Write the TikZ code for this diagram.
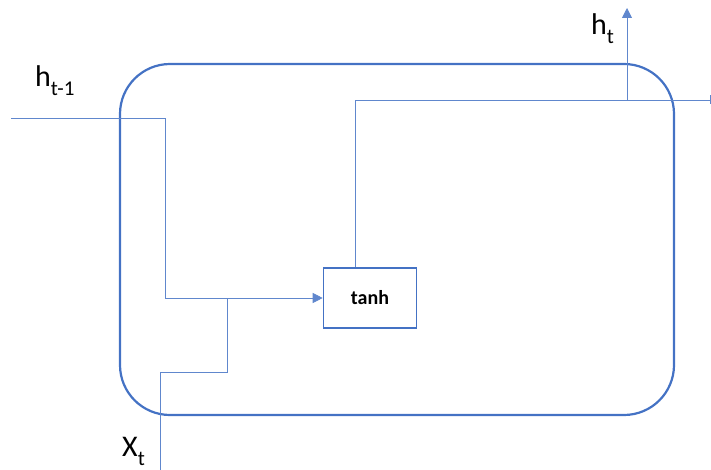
\documentclass[tikz,border=0pt]{standalone}
\usepackage{fontspec}
\setmainfont{Carlito}
\usetikzlibrary{positioning,arrows.meta}
\definecolor{cellblue}{HTML}{4472C4}

\begin{document}
\begin{tikzpicture}[x = 1pt, y = -1pt,
    every node/.style = { inner sep = 0pt },
    cell/.style = { draw = cellblue, line width = 2.2pt, rounded corners = 50pt },
    gate/.style = { draw = cellblue, line width = 1.6pt, minimum width = 93pt, minimum height = 60pt,
                    font = \bfseries\fontsize{20}{22}\selectfont },
    wire/.style = { draw = cellblue!85, line width = 0.75pt },
    lbl/.style = { font = \fontsize{30}{32}\selectfont, anchor = base west }]
    \useasboundingbox (0,0) rectangle (711,470);
    \draw [cell] (120,64) rectangle (674,415);
    \node [gate] (tanh) at (370,298) { tanh };

    \coordinate (hin) at (11,118);
    \coordinate (xin) at (160,470);
    \coordinate (xstep) at (227,372);
    \coordinate (xjoin) at (227,298);
    \coordinate (hout) at (711,100);
    \coordinate (hsplit) at (627,100);
    \coordinate (htop) at (627,8);

    \draw [wire, -{Triangle[length = 10pt, width = 10pt]}] (hin) -| ([xshift = -157pt]tanh.west) -- (tanh.west);
    \draw [wire] (xin) |- (xstep) -- (xjoin);
    \draw [wire, -{Bar[width = 9pt]}] ([xshift = -15pt]tanh.north) |- (hout);
    \draw [wire, -{Triangle[length = 10pt, width = 10pt]}] (hsplit) -- (htop);

    \node [lbl] (lprev) at (35,87) { h\raisebox{-0.3em}{\fontsize{21}{22}\selectfont t-1} };
    \node [lbl] (lout) at (591,35) { h\raisebox{-0.3em}{\fontsize{21}{22}\selectfont t} };
    \node [lbl] (lin) at (122,456) { X\raisebox{-0.3em}{\fontsize{21}{22}\selectfont t} };
\end{tikzpicture}
\end{document}
